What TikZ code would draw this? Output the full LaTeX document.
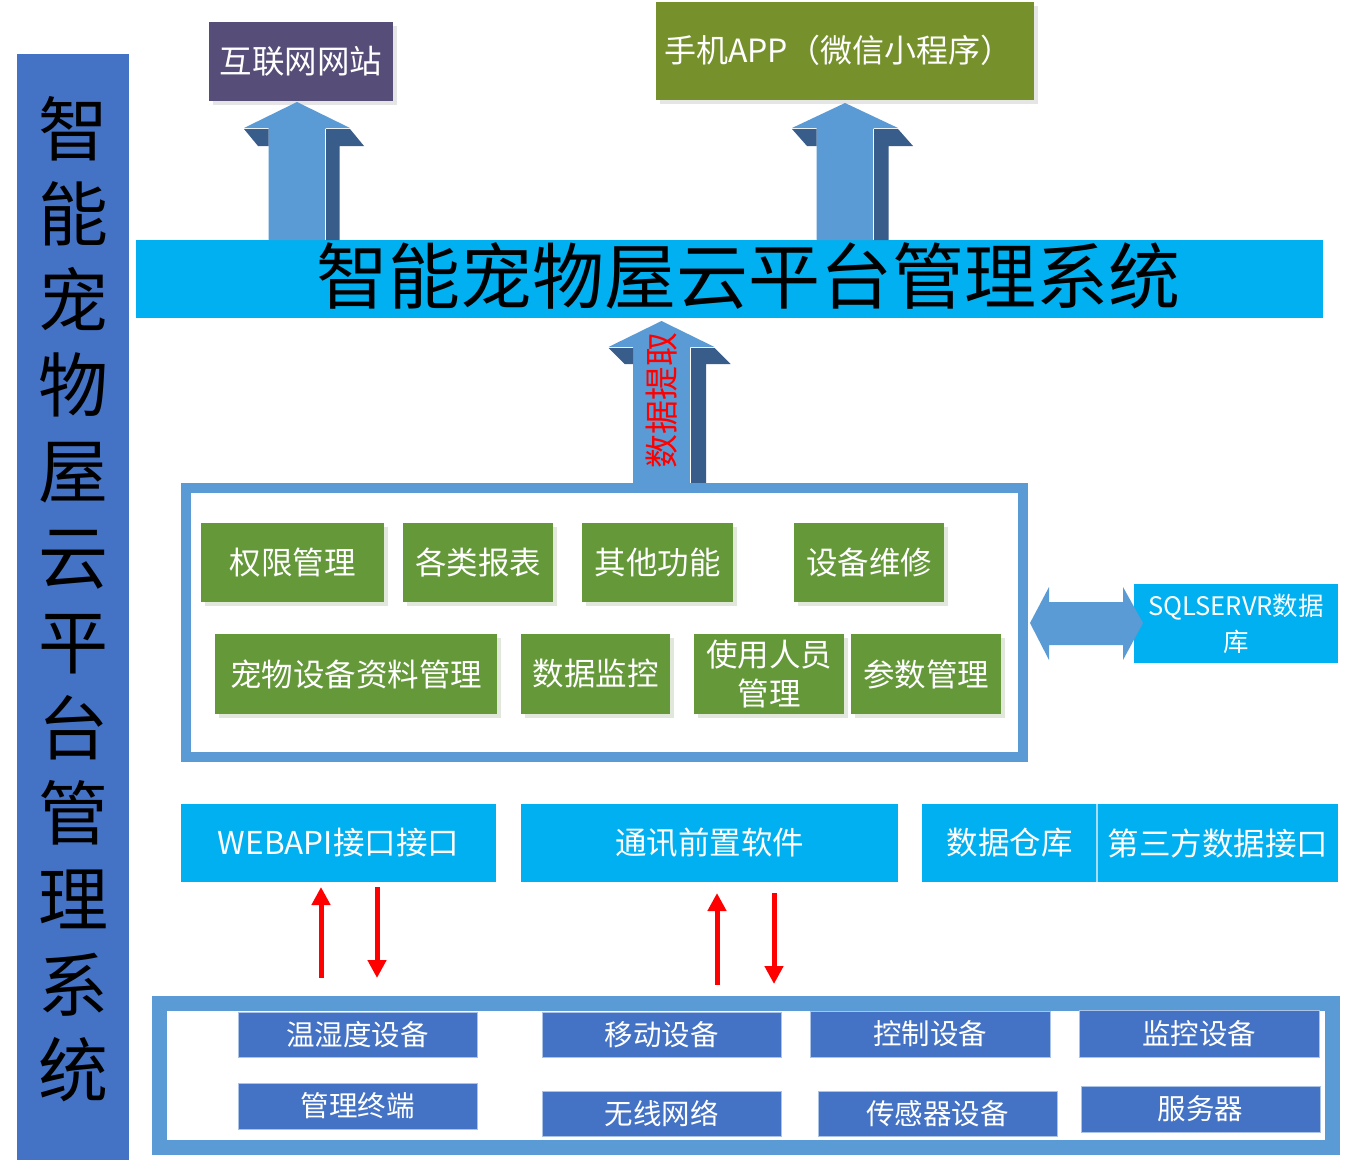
\documentclass[tikz,border=0pt]{standalone}
\usepackage{fontspec}
\setmainfont{Noto Sans CJK SC}
\usetikzlibrary{arrows.meta,shadows}
\definecolor{barblue}{RGB}{68,114,196}
\definecolor{cyanbar}{RGB}{0,176,240}
\definecolor{purplebox}{RGB}{86,77,120}
\definecolor{olivebox}{RGB}{118,145,44}
\definecolor{greenbox}{RGB}{100,152,57}
\definecolor{frameblue}{RGB}{91,155,213}
\definecolor{arrlight}{RGB}{91,155,213}
\definecolor{arrdark}{RGB}{56,93,138}
\definecolor{shadowc}{RGB}{226,231,219}
\definecolor{redc}{RGB}{255,0,0}
\definecolor{devborder}{RGB}{170,195,230}
\definecolor{divline}{RGB}{170,220,245}
\newcommand\blockarr[6]{%
 \fill[arrlight] (#1,#2) -- (#1+53,#3) -- (#1+28.5,#3) -- (#1+28.5,#4) -- (#1-28.5,#4) -- (#1-28.5,#3) -- (#1-53,#3) -- cycle;
 \fill[arrdark] (#1+28.5,#3+1) -- (#1+53,#3+1) -- (#1+53+#5,#3+#6) -- (#1+28.5+#5,#3+#6) -- (#1+28.5+#5,#4) -- (#1+28.5,#4) -- cycle;
 \fill[arrdark] (#1-53,#3+1) -- (#1-28.5,#3+1) -- (#1-28.5,#3+#6) -- (#1-53+#5,#3+#6) -- cycle;
 \draw[white,line width=0.8] (#1+28.5,#3+1) -- (#1+28.5,#4);
}
\begin{document}
\begin{tikzpicture}[x=1pt,y=-1pt,
  box/.style={inner sep=0pt,outer sep=0pt,text=white,align=center},
  gbox/.style={box,fill=greenbox,font=\fontsize{31.5}{40}\selectfont,
     drop shadow={shadow xshift=4pt,shadow yshift=-4pt,fill=shadowc,opacity=1}},
  cbox/.style={box,fill=cyanbar,font=\fontsize{31.5}{36}\selectfont},
  dbox/.style={box,fill=barblue,draw=devborder,line width=0.8,
     font=\fontsize{28.5}{32}\selectfont},
  redarr/.style={redc,line width=5,-{Triangle[width=18pt,length=18pt]}}]
\useasboundingbox (0,0) rectangle (1347,1162);
\fill[white] (0,0) rectangle (1347,1162);

% left vertical bar
\node[box,fill=barblue,minimum width=112,minimum height=1106] (lbar) at (73,607) {};
\node[inner sep=0pt,align=center,text=black,font=\fontsize{70}{85.6}\selectfont] (lbart) at (73,599)
  {智\\能\\宠\\物\\屋\\云\\平\\台\\管\\理\\系\\统};

% top boxes
\node[box,fill=purplebox,minimum width=184,minimum height=79,font=\fontsize{32.5}{36}\selectfont,
  drop shadow={shadow xshift=4pt,shadow yshift=-4pt,fill=black!10,opacity=1}] (web) at (301,61.5) {互联网网站};
\node[box,fill=olivebox,minimum width=378,minimum height=98,
  drop shadow={shadow xshift=4pt,shadow yshift=-4pt,fill=black!10,opacity=1}] (app) at (845,51) {};
\node[anchor=west,inner sep=0pt,text=white,font=\fontsize{32}{36}\selectfont] (appt) at (664,50) {手机APP（微信小程序）};

% main cloud platform bar
\node[box,fill=cyanbar,minimum width=1187,minimum height=78] (cloud) at (729.5,279) {};
\node[inner sep=0pt,text=black,font=\fontsize{72}{80}\selectfont] (cloudt) at (748,276) {智能宠物屋云平台管理系统};

% 3D block arrows
\blockarr{297}{102}{128}{240}{14}{18}
\blockarr{845}{103}{128}{240}{15}{18}
\blockarr{661.5}{321}{347}{483}{16}{17}
\node[inner sep=0pt,rotate=90,text=redc,font=\fontsize{34}{36}\selectfont] (extract) at (662,400) {数据提取};

% middle frame
\node[box,draw=frameblue,line width=10,fill=white,minimum width=837,minimum height=269] (mframe) at (604.5,622.5) {};
\node[gbox,minimum width=183,minimum height=79] (g1) at (292.5,562.5) {权限管理};
\node[gbox,minimum width=150,minimum height=79] (g2) at (478,562.5) {各类报表};
\node[gbox,minimum width=151,minimum height=79] (g3) at (657.5,562.5) {其他功能};
\node[gbox,minimum width=150,minimum height=79] (g4) at (869,562.5) {设备维修};
\node[gbox,minimum width=282,minimum height=80] (g5) at (356,674) {宠物设备资料管理};
\node[gbox,minimum width=149,minimum height=80] (g6) at (595.5,674) {数据监控};
\node[gbox,minimum width=150,minimum height=80] (g7) at (769,674) {使用人员\\[-1pt]管理};
\node[gbox,minimum width=150,minimum height=80] (g8) at (926,674) {参数管理};

% SQL server box and double arrow
\node[box,fill=cyanbar,minimum width=204,minimum height=79,font=\fontsize{25.5}{36}\selectfont] (sql) at (1236,623.5) {SQLSERVR数据\\库};
\fill[arrlight] (1030,623) -- (1049,587) -- (1049,602) -- (1123,602) -- (1123,587) -- (1143,623)
  -- (1123,660) -- (1123,645) -- (1049,645) -- (1049,660) -- cycle;

% interface row
\node[cbox,minimum width=315,minimum height=78] (webapi) at (338.5,843) {WEBAPI接口接口};
\node[cbox,minimum width=377,minimum height=78] (comm) at (709.5,843) {通讯前置软件};
\node[cbox,minimum width=175,minimum height=78] (dw) at (1009.5,843) {数据仓库};
\node[cbox,minimum width=240,minimum height=78] (third) at (1218,843) {第三方数据接口};
\draw[divline,line width=1.2] (dw.north east) -- (dw.south east);

% red arrows
\coordinate (a1s) at (321,978); \coordinate (a1e) at (321,887);
\coordinate (a2s) at (377,887); \coordinate (a2e) at (377,978);
\coordinate (a3s) at (717,985); \coordinate (a3e) at (717,893);
\coordinate (a4s) at (774,893); \coordinate (a4e) at (774,984);
\draw[redarr] (a1s) -- (a1e);
\draw[redarr] (a2s) -- (a2e);
\draw[redarr] (a3s) -- (a3e);
\draw[redarr] (a4s) -- (a4e);

% bottom device frame
\node[box,draw=frameblue,line width=15,fill=white,minimum width=1173,minimum height=144] (bframe) at (746,1075) {};
\node[dbox,minimum width=239,minimum height=45] (d1) at (357.5,1034.5) {温湿度设备};
\node[dbox,minimum width=239,minimum height=46] (d2) at (357.5,1106) {管理终端};
\node[dbox,minimum width=239,minimum height=45] (d3) at (661.5,1034.5) {移动设备};
\node[dbox,minimum width=239,minimum height=45] (d4) at (661.5,1113.5) {无线网络};
\node[dbox,minimum width=240,minimum height=46] (d5) at (930,1034) {控制设备};
\node[dbox,minimum width=239,minimum height=45] (d6) at (937.5,1113.5) {传感器设备};
\node[dbox,minimum width=240,minimum height=47] (d7) at (1199,1033.5) {监控设备};
\node[dbox,minimum width=239,minimum height=46] (d8) at (1200.5,1109) {服务器};
\end{tikzpicture}
\end{document}
